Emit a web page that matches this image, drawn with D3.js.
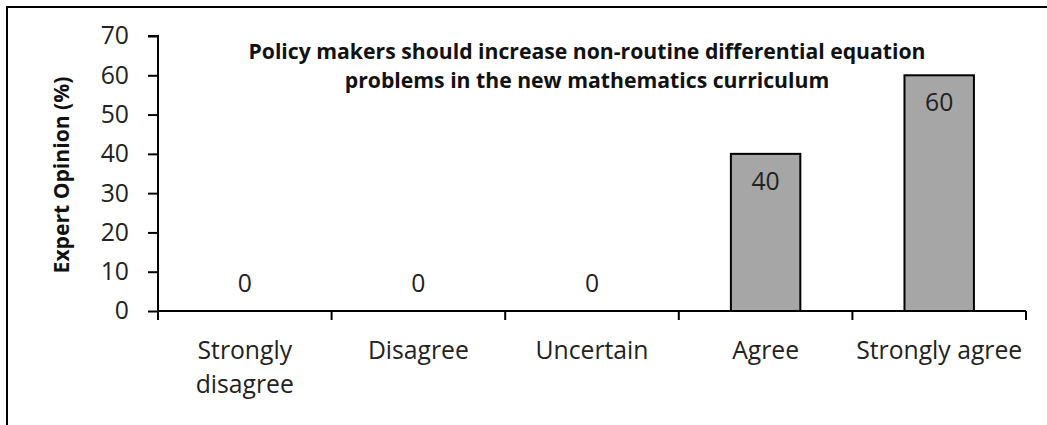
<!DOCTYPE html>
<html><head><meta charset="utf-8">
<script src="https://cdn.jsdelivr.net/npm/d3@7"></script>
<style>body{margin:0;background:#fff}svg{display:block}text{font-family:"Open Sans",Lato,sans-serif}</style>
</head><body><div id="chart"></div>
<script>
const categories = ["Strongly disagree","Disagree","Uncertain","Agree","Strongly agree"];
const categoryLines = [["Strongly","disagree"],["Disagree"],["Uncertain"],["Agree"],["Strongly agree"]];
const values = [0,0,0,40,60];
const yTicks = [0,10,20,30,40,50,60,70];
const titleLines = ["Policy makers should increase non-routine differential equation","problems in the new mathematics curriculum"];
const yTitle = "Expert Opinion (%)";

const W=1047,H=425;
const svg=d3.select("#chart").append("svg").attr("width",W).attr("height",H);
svg.append("rect").attr("x",7).attr("y",7).attr("width",W+10).attr("height",H+10).attr("fill","none").attr("stroke","#000").attr("stroke-width",2);

function fit(txt,target,weight){
  const t=svg.append("text").attr("font-size",20).attr("font-weight",weight||"normal").text(txt);
  const w=t.node().getComputedTextLength(); t.remove(); return 20*target/w;
}
const fsTick=fit("Strongly agree",166);
const fsTitle=Math.min(21.2,fit(titleLines[0],765,"bold"));
const fsYT=fit(yTitle,197,"bold");
const lhTick=Math.max(30,fsTick*1.38);
const lhTitle=Math.max(26,fsTitle*1.38);

const m={l:158,r:1026,t:36,b:311};
const x=d3.scaleBand().domain(categories).range([m.l,m.r]).paddingInner(0.6).paddingOuter(0.3);
const y=d3.scaleLinear().domain([0,70]).range([m.b,m.t]);

// bars
svg.selectAll("rect.bar").data(values).join("rect").attr("class","bar")
 .attr("x",(d,i)=>x(categories[i])).attr("width",x.bandwidth())
 .attr("y",d=>y(d)).attr("height",d=>y(0)-y(d))
 .attr("fill","#a6a6a6").attr("stroke",d=>d>0?"#000":"none").attr("stroke-width",2);

// y axis
const ya=svg.append("g").attr("transform",`translate(${m.l},0)`).call(d3.axisLeft(y).tickValues(yTicks).tickSize(10).tickPadding(19));
ya.select(".domain").attr("stroke","#000").attr("stroke-width",2).attr("d",`M-10,${y(70)}H0V${y(0)}`);
ya.selectAll(".tick line").attr("stroke","#000").attr("stroke-width",2);
ya.selectAll(".tick text").attr("font-size",fsTick).attr("fill","#222").attr("font-family","'Open Sans',sans-serif");

// x axis with boundary ticks
const bounds=d3.range(categories.length+1).map(i=>m.l+i*(m.r-m.l)/categories.length);
svg.append("line").attr("x1",m.l).attr("x2",m.r).attr("y1",y(0)).attr("y2",y(0)).attr("stroke","#000").attr("stroke-width",2);
svg.selectAll("line.xt").data(bounds).join("line").attr("class","xt")
 .attr("x1",d=>d).attr("x2",d=>d).attr("y1",y(0)).attr("y2",y(0)+9).attr("stroke","#000").attr("stroke-width",2);
categories.forEach((c,i)=>{
  const cx=x(c)+x.bandwidth()/2;
  const t=svg.append("text").attr("x",cx).attr("y",359).attr("text-anchor","middle").attr("font-size",fsTick).attr("fill","#222");
  categoryLines[i].forEach((ln,j)=>t.append("tspan").attr("x",cx).attr("dy",j?lhTick:0).text(ln));
});

// value labels
svg.selectAll("text.val").data(values).join("text").attr("class","val")
 .attr("x",(d,i)=>x(categories[i])+x.bandwidth()/2)
 .attr("y",d=>d>0?y(d)+36:y(0)-19)
 .attr("text-anchor","middle").attr("font-size",fsTick).attr("fill","#222").text(d=>d);

// title
const tt=svg.append("text").attr("text-anchor","middle").attr("font-size",fsTitle).attr("font-weight","bold").attr("fill","#111");
titleLines.forEach((ln,j)=>tt.append("tspan").attr("x",587).attr("y",59+j*lhTitle).text(ln));

// y title
svg.append("text").attr("transform","translate(69,175) rotate(-90)").attr("text-anchor","middle")
 .attr("font-size",fsYT).attr("font-weight","bold").attr("fill","#111").text(yTitle);
</script></body></html>
